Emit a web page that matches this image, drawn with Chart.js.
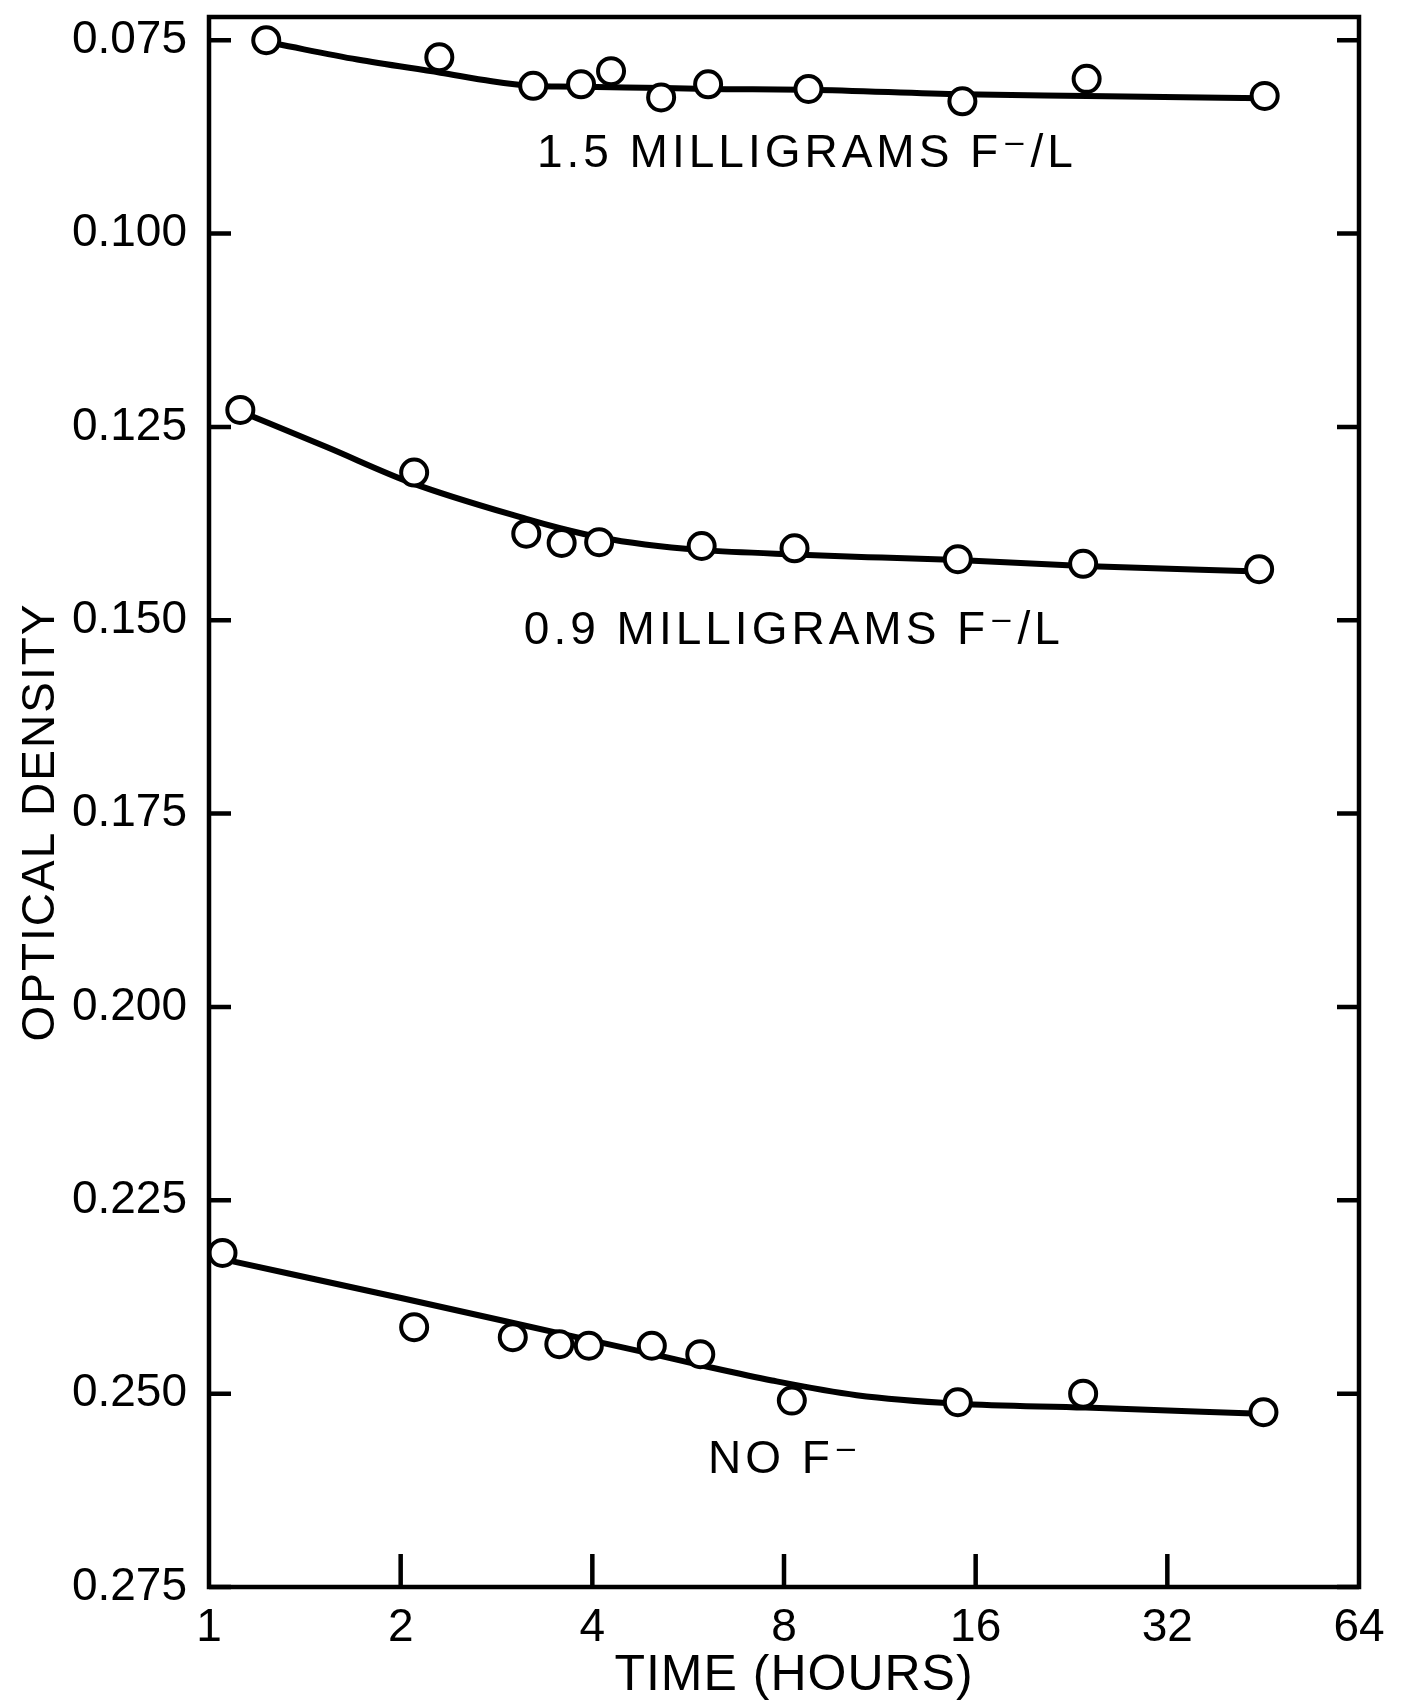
<!DOCTYPE html>
<html>
<head>
<meta charset="utf-8">
<script src="https://cdn.jsdelivr.net/npm/chart.js@4.4.1/dist/chart.umd.min.js"></script>
<style>
  html, body { margin: 0; padding: 0; background: #fff; }
  canvas { display: block; }
</style>
</head>
<body>
<canvas id="myChart" width="1402" height="1704"></canvas>
<script>
var ctx = document.getElementById("myChart").getContext('2d');

// measured points, time in hours / optical density
var hours15 = [1.23, 2.30, 3.23, 3.84, 4.28, 5.13, 6.08, 8.74, 15.25, 23.9, 45.5];
var density15 = [0.0750, 0.0772, 0.0809, 0.0807, 0.0790, 0.0824, 0.0807, 0.0813, 0.0829, 0.0800, 0.0822];

var hours09 = [1.12, 2.10, 3.15, 3.58, 4.10, 5.94, 8.31, 15.0, 23.6, 44.6];
var density09 = [0.1228, 0.1309, 0.1388, 0.1400, 0.1399, 0.1404, 0.1407, 0.1421, 0.1427, 0.1434];

var hoursNo = [1.05, 2.10, 3.00, 3.55, 3.95, 4.96, 5.91, 8.23, 15.0, 23.6, 45.3];
var densityNo = [0.2318, 0.2414, 0.2427, 0.2436, 0.2438, 0.2438, 0.2449, 0.2509, 0.2511, 0.2500, 0.2524];

// hand drawn fitted curves
var curveX15 = [1.28, 1.71, 2.31, 2.78, 3.21, 3.54, 4.51, 6.08, 8.74, 15.25, 23.9, 45.5];
var curveY15 = [0.0755, 0.0775, 0.0792, 0.0803, 0.0809, 0.0810, 0.0811, 0.0813, 0.0814, 0.0820, 0.0822, 0.0825];

var curveX09 = [1.12, 1.53, 2.09, 3.15, 3.56, 4.12, 4.84, 5.91, 8.31, 11.4, 15.0, 23.6, 44.6];
var curveY09 = [0.1230, 0.1276, 0.1323, 0.1369, 0.1381, 0.1393, 0.1402, 0.1409, 0.1415, 0.1419, 0.1422, 0.1430, 0.1437];

var curveXNo = [1.09, 2.02, 3.73, 4.92, 5.98, 7.66, 10.4, 15.0, 23.8, 44.8];
var curveYNo = [0.2329, 0.2377, 0.2426, 0.2448, 0.2464, 0.2483, 0.2502, 0.2513, 0.2518, 0.2526];

var xTicks = [1, 2, 4, 8, 16, 32, 64];
var yTicks = [0.075, 0.100, 0.125, 0.150, 0.175, 0.200, 0.225, 0.250, 0.275];

var xTitle = 'TIME (HOURS)';
var yTitle = 'OPTICAL DENSITY';
var labelText = ['1.5 MILLIGRAMS F\u207B/L', '0.9 MILLIGRAMS F\u207B/L', 'NO F\u207B'];
var labelX = [8.69, 8.29, 8.03];
var labelY = [0.0897, 0.1514, 0.2586];

var FONT = '"Liberation Sans", "DejaVu Sans", sans-serif';

function toPoints(xs, ys){
    var pts = [];
    for(var i = 0; i < xs.length; i++){
        pts.push({x: xs[i], y: ys[i]});
    }
    return pts;
}

function curveSet(xs, ys){
    return {
        data: toPoints(xs, ys),
        showLine: true,
        borderColor: '#000',
        borderWidth: 6,
        pointRadius: 0,
        cubicInterpolationMode: 'monotone',
        clip: false,
        order: 2
    };
}

function pointSet(xs, ys){
    return {
        data: toPoints(xs, ys),
        showLine: false,
        pointRadius: 13,
        pointBorderWidth: 4,
        pointBackgroundColor: '#fff',
        pointBorderColor: '#000',
        clip: false,
        order: 1
    };
}

// frame, inward ticks, axis titles and curve labels
var framePlugin = {
    id: 'frame',
    afterDatasetsDraw: function(chart){
        var c = chart.ctx, a = chart.chartArea;
        var xs = chart.scales.x, ys = chart.scales.y;
        c.save();
        c.strokeStyle = '#000';
        c.lineWidth = 4.5;
        c.strokeRect(a.left, a.top, a.right - a.left, a.bottom - a.top);
        c.beginPath();
        yTicks.forEach(function(v){
            var py = ys.getPixelForValue(v);
            c.moveTo(a.left, py); c.lineTo(a.left + 22, py);
            c.moveTo(a.right - 22, py); c.lineTo(a.right, py);
        });
        xTicks.slice(1, -1).forEach(function(v){
            var px = xs.getPixelForValue(v);
            c.moveTo(px, a.bottom); c.lineTo(px, a.bottom - 33);
        });
        c.stroke();

        c.fillStyle = '#000';
        c.textAlign = 'center';
        c.textBaseline = 'middle';

        c.font = '46px ' + FONT;
        c.letterSpacing = '4px';
        for(var i = 0; i < labelText.length; i++){
            c.fillText(labelText[i], xs.getPixelForValue(labelX[i]), ys.getPixelForValue(labelY[i]));
        }

        c.font = '50px ' + FONT;
        c.letterSpacing = '1px';
        c.fillText(xTitle, (a.left + a.right) / 2 + 10, chart.height - 28);

        c.font = '46px ' + FONT;
        c.letterSpacing = '2px';
        c.translate(41, (a.top + a.bottom) / 2 + 20);
        c.rotate(-Math.PI / 2);
        c.fillText(yTitle, 0, 0);
        c.restore();
    }
};

Chart.defaults.color = '#000';
Chart.defaults.font.family = FONT;

var myChart = new Chart(ctx, {
    type: 'scatter',
    data: {
        datasets: [
            pointSet(hours15, density15),
            pointSet(hours09, density09),
            pointSet(hoursNo, densityNo),
            curveSet(curveX15, curveY15),
            curveSet(curveX09, curveY09),
            curveSet(curveXNo, curveYNo)
        ]
    },
    options: {
        responsive: false,
        animation: false,
        devicePixelRatio: 1,
        layout: { padding: { top: 13, right: 43, left: 0, bottom: 0 } },
        plugins: { legend: { display: false }, tooltip: { enabled: false } },
        scales: {
            x: {
                type: 'logarithmic',
                min: 1,
                max: 64,
                afterBuildTicks: function(scale){
                    scale.ticks = xTicks.map(function(v){ return {value: v}; });
                },
                afterFit: function(scale){
                    scale.height = 117;
                    scale.paddingLeft = 0;
                    scale.paddingRight = 0;
                },
                grid: { display: false, drawTicks: false },
                border: { display: false },
                ticks: {
                    padding: 14,
                    maxRotation: 0,
                    autoSkip: false,
                    font: { size: 46 },
                    callback: function(v){ return String(v); }
                }
            },
            y: {
                type: 'linear',
                reverse: true,
                min: 0.072,
                max: 0.275,
                afterBuildTicks: function(scale){
                    scale.ticks = yTicks.map(function(v){ return {value: v}; });
                },
                afterFit: function(scale){
                    scale.width = 209;
                    scale.paddingTop = 0;
                    scale.paddingBottom = 0;
                },
                grid: { display: false, drawTicks: false },
                border: { display: false },
                ticks: {
                    padding: 22,
                    autoSkip: false,
                    font: { size: 46 },
                    callback: function(v){ return Number(v).toFixed(3); }
                }
            }
        }
    },
    plugins: [framePlugin]
});
</script>
</body>
</html>
